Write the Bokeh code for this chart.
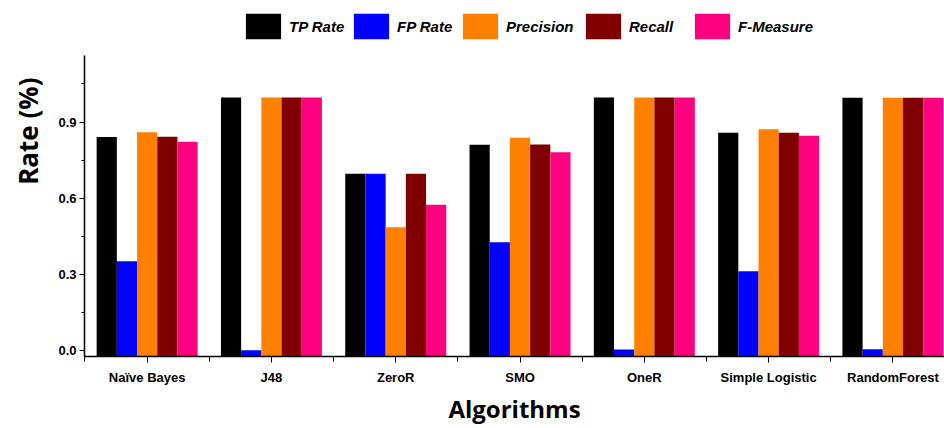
from bokeh.plotting import figure
from bokeh.models import (ColumnDataSource, Legend, LegendItem, FixedTicker,
                          PrintfTickFormatter, Title)
from bokeh.embed import file_html
from bokeh.resources import INLINE

algorithms = ["Naïve Bayes", "J48", "ZeroR", "SMO", "OneR", "Simple Logistic", "RandomForest"]
tp_rate   = [0.841, 0.997, 0.697, 0.811, 0.997, 0.858, 0.996]
fp_rate   = [0.353, 0.003, 0.697, 0.427, 0.006, 0.313, 0.007]
precision = [0.860, 0.997, 0.486, 0.838, 0.997, 0.872, 0.996]
recall    = [0.842, 0.997, 0.697, 0.812, 0.997, 0.858, 0.996]
f_measure = [0.823, 0.997, 0.575, 0.781, 0.997, 0.846, 0.996]

series_names = ["TP Rate", "FP Rate", "Precision", "Recall", "F-Measure"]
series_vals = [tp_rate, fp_rate, precision, recall, f_measure]
series_colors = ["#000000", "#0000FF", "#FF8000", "#800000", "#FF0080"]

y_ticks = [0.0, 0.3, 0.6, 0.9]
y_minor = [0.15, 0.45, 0.75, 1.05]

Y_MIN, Y_AXIS_TOP, Y_FRAME_TOP = -0.022, 1.162, 1.378
BAR_W = 0.1625

p = figure(width=944, height=428, x_range=(-0.504, 6.415), y_range=(Y_MIN, Y_FRAME_TOP),
           output_backend="svg", toolbar_location=None,
           min_border_left=84, min_border_right=0, min_border_top=0, min_border_bottom=72)
p.outline_line_color = None
p.xgrid.visible = False
p.ygrid.visible = False
p.background_fill_color = "white"

xs = list(range(len(algorithms)))
renderers = []
for i, (vals, color) in enumerate(zip(series_vals, series_colors)):
    off = (i - 2) * BAR_W
    src = ColumnDataSource(dict(x=[x + off for x in xs], top=vals))
    r = p.vbar(x="x", top="top", bottom=Y_MIN, width=BAR_W, source=src,
               fill_color=color, line_color=None)
    renderers.append(r)

# legend, one box per entry, placed in the band above the axis
leg_x = [157, 265, 374, 497, 606]
for name, r, lx in zip(series_names, renderers, leg_x):
    leg = Legend(items=[LegendItem(label=name, renderers=[r])], location=(lx, 314),
                 orientation="horizontal", glyph_width=44, glyph_height=32,
                 label_standoff=4, padding=0, margin=0, spacing=0,
                 border_line_color=None, background_fill_alpha=0,
                 label_text_font="Liberation Sans", label_text_font_style="bold italic",
                 label_text_font_size="15px", label_text_color="black")
    p.add_layout(leg)

# y axis
ya = p.yaxis[0]
ya.bounds = (Y_MIN, Y_AXIS_TOP)
ya.ticker = FixedTicker(ticks=y_ticks, minor_ticks=y_minor)
ya.formatter = PrintfTickFormatter(format="%.1f")
ya.major_tick_out = 5
ya.major_tick_in = 0
ya.minor_tick_out = 3
ya.minor_tick_in = 0
ya.axis_line_width = 1.5
ya.axis_line_color = "black"
ya.major_tick_line_color = "black"
ya.minor_tick_line_color = "black"
ya.major_label_standoff = 3
ya.major_label_text_font = "Liberation Sans"
ya.major_label_text_font_style = "bold"
ya.major_label_text_font_size = "13px"
ya.major_label_text_color = "black"

# x axis
xa = p.xaxis[0]
xa.ticker = FixedTicker(ticks=xs, minor_ticks=[i + 0.5 for i in range(-1, 7)])
xa.major_label_overrides = {i: n for i, n in enumerate(algorithms)}
xa.major_tick_out = 6
xa.major_tick_in = 0
xa.minor_tick_out = 5
xa.minor_tick_in = 0
xa.axis_line_width = 1.5
xa.axis_line_color = "black"
xa.major_tick_line_color = "black"
xa.minor_tick_line_color = "black"
xa.major_label_standoff = 7
xa.major_label_text_font = "Liberation Sans"
xa.major_label_text_font_style = "bold"
xa.major_label_text_font_size = "13px"
xa.major_label_text_color = "black"
xa.axis_label = "Algorithms"
xa.axis_label_text_font = "Open Sans"
xa.axis_label_text_font_style = "bold"
xa.axis_label_text_font_size = "24px"
xa.axis_label_text_color = "black"
xa.axis_label_standoff = 4

ytitle = Title(text="Rate (%)", align="right", offset=77, standoff=16,
               vertical_align="top",
               text_font="Open Sans", text_font_style="bold", text_font_size="26px",
               text_color="black")
p.add_layout(ytitle, "left")

open("out.html", "w").write(file_html(p, INLINE))
